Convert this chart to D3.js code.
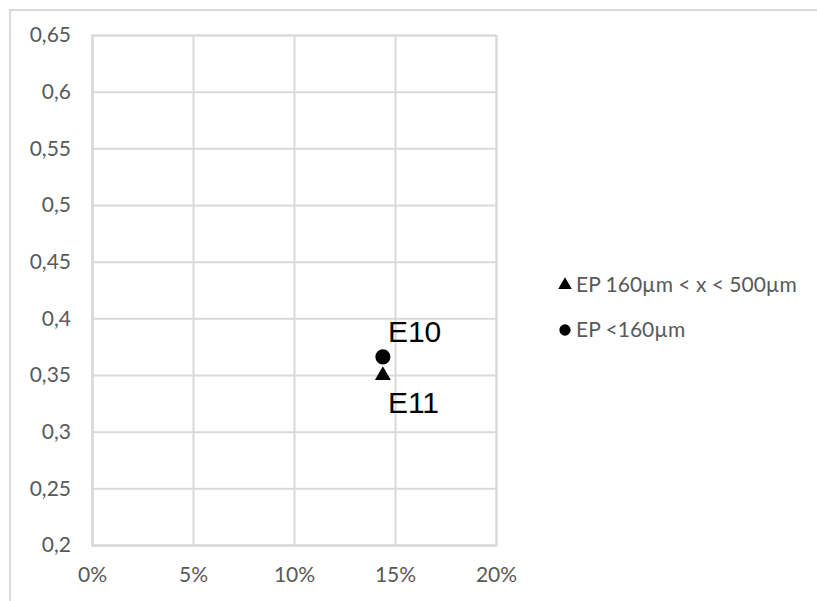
<!DOCTYPE html>
<html>
<head>
<meta charset="utf-8">
<script src="https://cdn.jsdelivr.net/npm/d3@7"></script>
<style>
  html, body { margin: 0; padding: 0; background: #fff; }
  svg { display: block; }
</style>
</head>
<body>
<svg id="chart" width="817" height="601"></svg>
<script>
// Series: share on x (percent), ratio on y
const seriesNames = ["EP 160µm < x < 500µm", "EP <160µm"];
const seriesSymbols = ["triangle", "circle"];
const pointLabels = ["E11", "E10"];
const xValues = [14.4, 14.4];
const yValues = [0.351, 0.366];

const xTicks = [0, 5, 10, 15, 20];
const yTicks = [0.2, 0.25, 0.3, 0.35, 0.4, 0.45, 0.5, 0.55, 0.6, 0.65];

const svg = d3.select("#chart");
const W = 817, H = 601;
const plot = { left: 92, right: 496, top: 35, bottom: 545 };
const gridColor = "#d9d9d9";
const tickColor = "#595959";
const tickFont = "Lato, 'Open Sans', sans-serif";

// Chart frame (extends past the visible area)
svg.append("rect")
  .attr("x", 10).attr("y", 10)
  .attr("width", W + 50).attr("height", H + 50)
  .attr("fill", "#fff")
  .attr("stroke", gridColor).attr("stroke-width", 2);

const x = d3.scaleLinear().domain([0, 20]).range([plot.left, plot.right]);
const y = d3.scaleLinear().domain([0.2, 0.65]).range([plot.bottom, plot.top]);

const fmtY = v => d3.format(".2~f")(v).replace(".", ",");

// Horizontal gridlines + y labels
const yAxis = d3.axisLeft(y).tickValues(yTicks)
  .tickSize(-(plot.right - plot.left)).tickPadding(21).tickFormat(fmtY);
const gy = svg.append("g").attr("transform", `translate(${plot.left},0)`).call(yAxis);
gy.select(".domain").attr("stroke", gridColor).attr("stroke-width", 2);
gy.selectAll(".tick line").attr("stroke", gridColor).attr("stroke-width", 2);
gy.selectAll(".tick text")
  .attr("fill", tickColor).style("font-family", tickFont).style("font-size", "21px");

// Vertical gridlines + x labels
const xAxis = d3.axisBottom(x).tickValues(xTicks)
  .tickSize(-(plot.bottom - plot.top)).tickPadding(22).tickFormat(d => d + "%");
const gx = svg.append("g").attr("transform", `translate(0,${plot.bottom})`).call(xAxis);
gx.select(".domain").attr("stroke", gridColor).attr("stroke-width", 2);
gx.selectAll(".tick line").attr("stroke", gridColor).attr("stroke-width", 2);
gx.selectAll(".tick text")
  .attr("fill", tickColor).style("font-family", tickFont).style("font-size", "21px");

const symbolType = s => s === "triangle" ? d3.symbolTriangle : d3.symbolCircle;

// Data points
const pts = xValues.map((v, i) => ({ x: v, y: yValues[i], sym: seriesSymbols[i], label: pointLabels[i] }));
svg.append("g").selectAll("path").data(pts).join("path")
  .attr("transform", d => `translate(${x(d.x)},${y(d.y) + (d.sym === "triangle" ? 1.5 : 0)})`)
  .attr("d", d => d3.symbol().type(symbolType(d.sym)).size(d.sym === "triangle" ? 110 : 180)())
  .attr("fill", "#000");

// Point labels: E10 above, E11 below
svg.append("g").selectAll("text").data(pts).join("text")
  .attr("x", d => x(d.x) + 5)
  .attr("y", d => d.sym === "triangle" ? y(d.y) + 39 : y(d.y) - 15)
  .attr("fill", "#000")
  .style("font-family", "'Liberation Sans', Arial, sans-serif")
  .style("font-size", "30px")
  .text(d => d.label);

// Legend
const legend = svg.append("g").attr("transform", "translate(565,285)");
const items = legend.selectAll("g").data(seriesNames).join("g")
  .attr("transform", (d, i) => `translate(0,${i * 45})`);
items.append("path")
  .attr("d", (d, i) => d3.symbol().type(symbolType(seriesSymbols[i])).size(seriesSymbols[i] === "triangle" ? 80 : 100)())
  .attr("fill", "#000");
items.append("text")
  .attr("x", 11).attr("dy", "0.35em")
  .attr("fill", tickColor)
  .style("font-family", tickFont).style("font-size", "21px")
  .text(d => d);
</script>
</body>
</html>
